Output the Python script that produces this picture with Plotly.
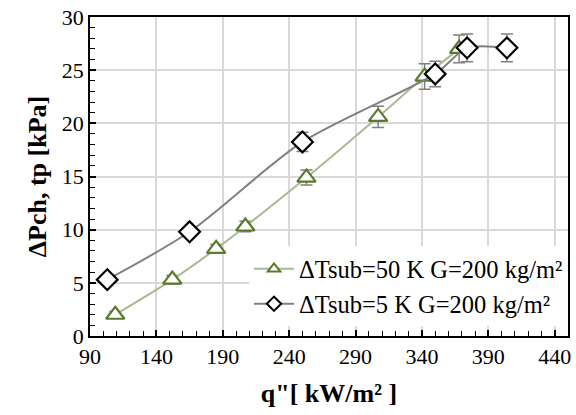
import plotly.graph_objects as go

# Data
q_sub50 = [109, 152, 185, 207, 253, 307, 342, 368]
dp_sub50 = [2.0, 5.3, 8.2, 10.3, 14.9, 20.6, 24.4, 27.0]
err_sub50 = [0.3, 0.4, 0.4, 0.5, 0.7, 1.0, 1.2, 1.3]

q_sub5 = [103, 165, 250, 350, 374, 404]
dp_sub5 = [5.3, 9.8, 18.25, 24.65, 27.1, 27.1]
err_sub5 = [0.3, 0.4, 0.9, 1.2, 1.3, 1.3]

name_sub50 = "ΔTsub=50 K G=200 kg/m²"
name_sub5 = "ΔTsub=5 K G=200 kg/m²"

x_ticks = [90, 140, 190, 240, 290, 340, 390, 440]
y_ticks = [0, 5, 10, 15, 20, 25, 30]

FONT = "Liberation Serif"
GREEN_LINE = "#a9b993"
GREEN_MARK = "#5b7a2b"
GRAY_LINE = "#808080"

fig = go.Figure()
fig.add_trace(go.Scatter(
    x=q_sub50, y=dp_sub50, name=name_sub50, mode="lines+markers", showlegend=False,
    line=dict(color=GREEN_LINE, width=2, shape="spline", smoothing=0.8),
    marker=dict(symbol="triangle-up", size=16, color="white",
                line=dict(color=GREEN_MARK, width=2.2)),
    error_y=dict(type="data", array=err_sub50, color=GRAY_LINE, thickness=1.5, width=6),
))
fig.add_trace(go.Scatter(
    x=q_sub5, y=dp_sub5, name=name_sub5, mode="lines+markers", showlegend=False,
    line=dict(color=GRAY_LINE, width=2, shape="spline", smoothing=0.8),
    marker=dict(symbol="diamond", size=16, color="white",
                line=dict(color="black", width=2.2)),
    error_y=dict(type="data", array=err_sub5, color=GRAY_LINE, thickness=1.5, width=6),
))
# legend entries (smaller legend symbols, as in the reference)
fig.add_trace(go.Scatter(
    x=[None], y=[None], name=name_sub50, mode="lines+markers",
    line=dict(color=GREEN_LINE, width=2),
    marker=dict(symbol="triangle-up", size=11, color="white",
                line=dict(color=GREEN_MARK, width=2)),
))
fig.add_trace(go.Scatter(
    x=[None], y=[None], name=name_sub5, mode="lines+markers",
    line=dict(color=GRAY_LINE, width=2),
    marker=dict(symbol="diamond", size=11, color="white",
                line=dict(color="black", width=2)),
))

axis_common = dict(
    showline=True, linecolor="black", linewidth=1.8, mirror=True,
    showgrid=True, gridcolor="#d9d9d9", gridwidth=1.5,
    ticks="inside", ticklen=6, tickcolor="black", tickwidth=1.5,
    tickfont=dict(family=FONT, size=22, color="black"),
    zeroline=False,
)

fig.update_xaxes(
    range=[90, 450], tickvals=x_ticks,
    minor=dict(dtick=10, ticks="inside", ticklen=5, tickcolor="black", tickwidth=1.2, showgrid=False),
    title=dict(text="<b>q\"[ kW/m² ]</b>", font=dict(family=FONT, size=26, color="black"), standoff=16),
    **axis_common,
)
fig.update_yaxes(
    range=[0, 30], tickvals=y_ticks,
    minor=dict(dtick=1, ticks="inside", ticklen=5, tickcolor="black", tickwidth=1.2, showgrid=False),
    title=dict(text="<b>ΔPch, tp [kPa]</b>", font=dict(family=FONT, size=26, color="black"), standoff=8),
    **axis_common,
)

fig.update_layout(
    width=576, height=415,
    margin=dict(l=90, r=5, t=17, b=79),
    paper_bgcolor="white", plot_bgcolor="white",
    font=dict(family=FONT, color="black"),
    showlegend=True,
    legend=dict(
        x=1.0, y=0.03, xanchor="right", yanchor="bottom",
        bgcolor="white", borderwidth=0,
        font=dict(family=FONT, size=24.5, color="black"),
        tracegroupgap=0, itemwidth=40,
    ),
)

fig.write_html("out.html")
